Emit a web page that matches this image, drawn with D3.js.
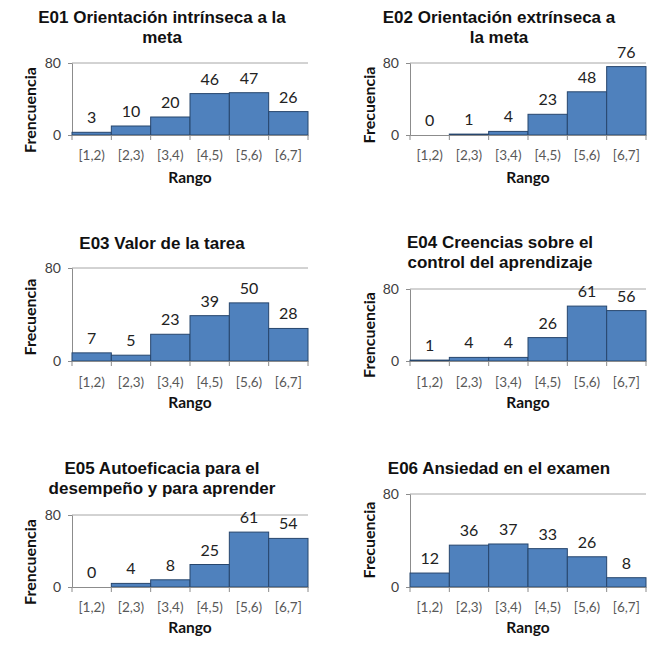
<!DOCTYPE html>
<html><head><meta charset="utf-8">
<script src="https://cdn.jsdelivr.net/npm/d3@7"></script>
<style>body{margin:0;background:#fff}svg{display:block}</style>
</head><body>
<svg id="c" width="653" height="666"></svg>
<script>
const categories = ["[1,2)", "[2,3)", "[3,4)", "[4,5)", "[5,6)", "[6,7]"];
const yTicks = [0, 80];
const xTitle = "Rango";
const titles = [
  ["E01 Orientación intrínseca a la", "meta"],
  ["E02 Orientación extrínseca a", "la meta"],
  ["E03 Valor de la tarea"],
  ["E04 Creencias sobre el", "control del aprendizaje"],
  ["E05 Autoeficacia para el", "desempeño y para aprender"],
  ["E06 Ansiedad en el examen"]
];
const yTitles = ["Frencuencia", "Frecuencia", "Frecuencia", "Frencuencia", "Frencuencia", "Frecuencia"];
const e01 = [3, 10, 20, 46, 47, 26];
const e02 = [0, 1, 4, 23, 48, 76];
const e03 = [7, 5, 23, 39, 50, 28];
const e04 = [1, 4, 4, 26, 61, 56];
const e05 = [0, 4, 8, 25, 61, 54];
const e06 = [12, 36, 37, 33, 26, 8];
const series = [e01, e02, e03, e04, e05, e06];

// layout (pixels) for each panel
const layout = [
  {l:72,  r:308, t:63,  b:135, ty:[17,37],   tx:162, xl:155, rg:178, yx:30,  yy:110},
  {l:410, r:646, t:63,  b:135, ty:[17,37],   tx:499, xl:155, rg:178, yx:369, yy:105},
  {l:72,  r:308, t:268, b:361, ty:[243],     tx:162, xl:382, rg:403, yx:30,  yy:317},
  {l:410, r:646, t:289, b:361, ty:[242,262], tx:500, xl:382, rg:403, yx:369, yy:335},
  {l:72,  r:308, t:515, b:587, ty:[468,488], tx:162, xl:607, rg:628, yx:30,  yy:562},
  {l:410, r:646, t:494, b:587, ty:[468],     tx:499, xl:607, rg:628, yx:369, yy:540}
];

const svg = d3.select("#c");
const fill = "#4F81BD", stroke = "#27466d", axisCol = "#8c8c8c", textGray = "#595959";
const labFont = "Lato, 'Open Sans', sans-serif";

series.forEach((vals, i) => {
  const L = layout[i];
  const g = svg.append("g");
  const x = d3.scaleBand().domain(categories).range([L.l, L.r]).padding(0);
  const y = d3.scaleLinear().domain([0, 80]).range([L.b, L.t]);

  const yAxis = d3.axisLeft(y).tickValues(yTicks).tickSize(4).tickPadding(7);
  const ya = g.append("g").attr("transform", `translate(${L.l},0)`).call(yAxis);
  ya.select(".domain").attr("stroke", axisCol);
  ya.selectAll(".tick line").attr("stroke", axisCol);
  ya.selectAll(".tick text").attr("font-family", labFont).attr("font-size", 14).attr("fill", "#404040");
  g.selectAll(".grid").data(yTicks.filter(d => d > 0)).enter().append("line")
    .attr("x1", L.l).attr("x2", L.r).attr("y1", d => y(d)).attr("y2", d => y(d))
    .attr("stroke", "#a6a6a6").attr("stroke-width", 1);

  g.selectAll("rect").data(vals).enter().append("rect")
    .attr("x", (d, j) => x(categories[j]))
    .attr("y", d => y(d))
    .attr("width", x.bandwidth())
    .attr("height", d => y(0) - y(d))
    .attr("fill", fill).attr("stroke", stroke).attr("stroke-width", 1);

  const xa = g.append("g").attr("transform", `translate(0,${L.b})`)
    .call(d3.axisBottom(x).tickSize(0).tickPadding(0));
  xa.select(".domain").attr("stroke", axisCol);
  xa.selectAll(".tick text").attr("y", L.xl - L.b).attr("dy", "0.35em")
    .attr("font-family", labFont).attr("font-size", 13.5).attr("fill", textGray);
  const bounds = categories.map(c => x(c)).concat([L.r]);
  g.selectAll(".bt").data(bounds).enter().append("line")
    .attr("x1", d => d).attr("x2", d => d).attr("y1", L.b).attr("y2", L.b + 5)
    .attr("stroke", axisCol);

  g.selectAll(".vl").data(vals).enter().append("text")
    .attr("x", (d, j) => x(categories[j]) + x.bandwidth() / 2)
    .attr("y", d => y(d) - 9)
    .attr("text-anchor", "middle")
    .attr("font-family", labFont).attr("font-size", 16).attr("fill", "#222")
    .text(d => d);

  titles[i].forEach((line, k) => {
    g.append("text").attr("x", L.tx).attr("y", L.ty[k]).attr("dy", "0.35em")
      .attr("text-anchor", "middle").attr("font-family", "'Liberation Sans', Arial, sans-serif")
      .attr("font-weight", "bold").attr("font-size", 17).attr("fill", "#111").text(line);
  });
  g.append("text").attr("x", (L.l + L.r) / 2).attr("y", L.rg).attr("dy", "0.35em")
    .attr("text-anchor", "middle").attr("font-family", labFont).attr("font-weight", "bold")
    .attr("font-size", 15.5).attr("fill", "#111").text(xTitle);
  g.append("text").attr("transform", `translate(${L.yx},${L.yy}) rotate(-90)`).attr("dy", "0.35em")
    .attr("text-anchor", "middle").attr("font-family", labFont).attr("font-weight", "bold")
    .attr("font-size", 16).attr("fill", "#111").text(yTitles[i]);
});
</script>
</body></html>
